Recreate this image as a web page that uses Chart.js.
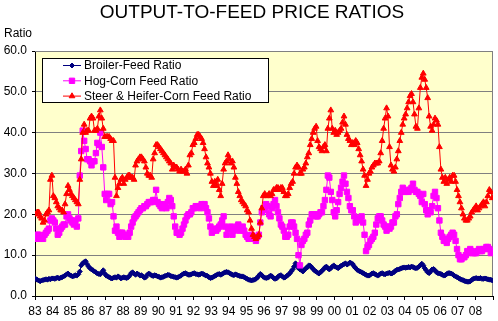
<!DOCTYPE html>
<html>
<head>
<meta charset="utf-8">
<script src="https://cdn.jsdelivr.net/npm/chart.js@4.4.1/dist/chart.umd.min.js"></script>
<style>
  html, body { margin: 0; padding: 0; background: #fff; }
  canvas { display: block; }
</style>
</head>
<body>
<canvas id="chart" width="498" height="321"></canvas>
<script>
// year labels on the x axis, one per 12 monthly points
const yearLabels = ['83','84','85','86','87','88','89','90','91','92','93','94','95',
                    '96','97','98','99','00','01','02','03','04','05','06','07','08'];

// monthly ratios, Jan 1983 .. Dec 2008 (one row per year)
const broiler = [
  4.2,4.0,3.8,3.6,3.8,3.9,4.0,4.1,4.0,4.2,4.1,4.3,
  4.3,4.2,4.4,4.5,4.3,4.5,4.6,4.8,5.0,5.3,5.5,5.2,
  5.0,4.8,4.9,5.1,5.0,5.3,6.0,7.5,8.0,8.3,8.5,7.8,
  7.2,6.8,6.5,6.3,6.0,5.8,5.5,5.4,5.3,5.8,6.3,5.5,
  5.0,4.8,4.6,4.4,4.3,4.5,4.6,4.5,4.8,4.6,4.3,4.5,
  4.6,4.5,4.4,4.6,5.0,5.6,5.8,5.5,5.2,5.5,5.3,5.0,
  5.1,4.8,4.5,4.6,5.2,5.5,5.3,5.0,4.9,5.1,5.0,4.8,
  4.7,4.5,4.6,4.7,4.9,5.0,5.2,5.1,4.9,4.8,4.7,4.6,
  4.5,4.6,4.8,5.0,5.3,5.5,5.6,5.4,5.2,5.2,5.3,5.5,
  5.6,5.4,5.3,5.2,5.3,5.5,5.4,5.2,5.0,4.9,4.6,4.4,
  4.5,4.7,4.9,5.1,5.3,5.4,5.2,5.4,5.6,5.8,5.9,5.8,
  5.6,5.4,5.2,5.1,5.3,5.2,5.0,4.9,4.8,4.8,4.6,4.4,
  4.2,4.0,3.9,3.8,3.9,4.0,4.2,4.5,5.0,5.4,5.1,4.7,
  4.5,4.4,4.5,4.7,5.0,4.8,4.4,4.2,4.3,4.7,5.0,5.1,
  4.8,4.5,4.6,4.9,5.2,5.5,6.0,6.5,7.2,8.0,7.6,6.8,
  6.5,6.3,6.0,6.4,6.8,7.0,7.5,7.4,7.0,6.6,6.2,6.0,
  5.7,5.5,5.8,6.2,6.5,7.0,7.2,6.8,6.5,6.8,7.2,7.5,
  7.2,7.0,6.8,7.1,7.4,7.6,7.8,8.0,7.7,7.9,8.2,8.0,
  7.8,7.2,6.8,6.4,6.2,6.0,5.8,5.6,5.4,5.2,5.0,5.0,
  5.2,5.5,5.6,5.4,5.2,5.0,5.2,5.5,5.6,5.4,5.3,5.5,
  5.6,5.7,5.5,5.6,5.8,6.2,6.4,6.5,6.6,6.8,6.9,7.0,
  6.9,7.0,7.1,7.0,7.2,7.1,6.9,6.8,6.9,7.2,7.5,7.9,
  7.5,6.8,6.3,5.8,5.6,6.0,6.5,6.6,6.3,5.8,5.6,5.5,
  5.4,5.2,5.0,5.1,5.4,5.6,5.6,5.5,5.3,5.0,4.8,4.6,
  4.4,4.2,4.0,3.9,3.7,3.6,3.5,3.5,3.6,3.9,4.2,4.3,
  4.4,4.3,4.3,4.4,4.2,4.2,4.3,4.2,4.1,4.0,4.0,3.8
];

const hogCorn = [
  14,15,15,14,14,14,15,15.5,16,16.5,18.5,19,
  18.5,18,16.5,15,15.5,16.5,17,17.5,17.5,19.5,20,19,
  18.5,18,17.5,18.5,17,19,29.5,35.5,40.5,38,36,33.5,
  33.5,33,32,33,33,35,37.5,37,40,36.5,31.5,25,
  23.5,25,25,22.5,23,19.5,16,17,15.5,14.5,15.5,15.5,
  15,14.5,15,14.5,15.5,17,18,19,19.5,20,20.5,21,
  21.5,21.5,22,22,22.5,23,23,23,23.5,23.5,26,23,
  22.5,22,21.5,22.5,22,21.5,23,24,23.5,22,19.5,17,
  15.5,15.5,15,15.5,16.5,17.5,18.5,19.5,20,20,20.5,21.5,
  21.5,22,22,22,21.5,22.5,22,22.5,21.5,20.5,19,17,
  15.5,16,16.5,16,16.5,17,17.5,18.5,19.5,17,15,16.5,
  16.5,17,15,16,16.5,17,17.5,16,16.5,17,16,15,
  14.5,14,14.5,15,14,14.5,13.5,14.5,15,18,20.5,21.5,
  21,22.5,22,20,19.5,21.5,22.5,23.5,22,20.5,19,17.5,
  17,16,14.5,14.5,15,17,18,18,17,15.5,14,10,
  7.5,12.5,13.5,14,15,15.5,17.5,18.5,20,20,20,19.5,
  19.5,20,20.5,20.5,22,23.5,26,29.5,29,25.5,23.5,20.5,
  19.5,21,23,25,26.5,28,29.5,27.5,25.5,24,22,21,
  21,19.5,18,19,18.5,19,19.5,18,15,11,12,12.5,
  13.5,14,14.5,15.5,17.5,19,19.5,19.5,18.5,17.5,17,16,
  17,16.5,17,18,18,19.5,20,22.5,24,25.5,26.5,25.5,
  25.5,26,25.5,26,26.5,27.5,26,25.5,25.5,25,24.5,23,
  25,22.5,21,20,21,20.5,22,24.5,25.5,24,21.5,18.5,
  15.5,14.5,13.5,14,13,14,14.5,15,15.5,15,13.5,11.5,
  10,9,9,9.5,9.5,10,11,10.5,11.5,11,10.5,10.5,
  10.5,11,11.5,11,11,11.5,11.5,12,12,11.5,10.5,11
];

const steerCorn = [
  20,20.5,20.5,19.5,19,18,18.5,20,20.5,21,28.5,29.5,
  24.5,24,23,22,21.5,21,21,20.5,22.5,25,27,26,
  25,24.5,24,23.5,23,22.5,28.5,33.5,40,42,40,40.5,
  40.5,43.5,44,43.5,40.5,40.5,41,44,45.5,43.5,41,39,
  39,39,39,38.5,38,38,29,24.5,26.5,27.5,28.5,29,
  27.5,28.5,29,29.5,29.5,29,29,28.5,32,33,33.5,34,
  34,33.5,33,31.5,30,29.5,29.5,29,33.5,35,37,37,
  36.5,36,35.5,35,34.5,34,33.5,33,32.5,31,32,31.5,
  31.5,31,30.5,31,30.5,30.5,31,30,32,34.5,35,37,
  37.5,38.5,39.5,39.5,39,38.5,37.5,36,34,32.5,31.5,30,
  28,27,28,27,28.5,26,24.5,27.5,31,32.5,33,34.5,
  33.5,32.5,33,31.5,29,27.5,25.5,24.5,23.5,23,22.5,22,
  21,20.5,18.5,16.5,15,14.5,14,14.5,15,18,21.5,24.5,
  25,24.5,24.5,25,24.5,25,26,26,26.5,26.5,26,26.5,
  26.5,25.5,24.5,24.5,25,26.5,27.5,28,30,31.5,32,31.5,
  30,30,31,31.5,32.5,34,35,37,38.5,40,41,41.5,
  38,36.5,36,35.5,36.5,37,35.5,41,43.5,45.5,41,40,
  40.5,39.5,40,40.5,41,42.5,44,42,39.5,38.5,38,37,
  37.5,37,38,37.5,36,34.5,33,31,29.5,27,28.5,30,
  30.5,31.5,32,32.5,32.5,32.5,33,35,38,41,43.5,46,
  44,36.5,32,31,30.5,31.5,33.5,35.5,38,40,42,43.5,
  44.5,46,47.5,49,49.5,47.5,44.5,41.5,41,46,51,53.5,
  54.5,53,51,48.5,44,41.5,40.5,42,43.5,43,42,36.5,
  31,29,28,29,27.5,28.5,29,28,29.5,29.5,28,26,
  24.5,23,21.5,20,19,18.5,18.5,19,19.5,20.5,21,21.5,
  22,21,21.5,22,22.5,23,22,23,24.5,26,25.5,24
];

const FONT = 'Arial, "Liberation Sans", sans-serif';

function toPoints(values) {
  return values.map((v, i) => ({ x: i + 0.5, y: v }));
}

const plotDecor = {
  id: 'plotDecor',
  beforeDraw(chart) {
    const { ctx, chartArea: a } = chart;
    ctx.save();
    ctx.fillStyle = '#FFFFCC';
    ctx.fillRect(a.left, a.top, a.right - a.left, a.bottom - a.top);
    ctx.restore();
  },
  beforeDatasetsDraw(chart) {
    const { ctx, chartArea: a } = chart;
    ctx.save();
    ctx.strokeStyle = '#808080';
    ctx.lineWidth = 1;
    ctx.beginPath();
    ctx.moveTo(a.left, a.top + 0.5);
    ctx.lineTo(a.right - 0.5, a.top + 0.5);
    ctx.lineTo(a.right - 0.5, a.bottom);
    ctx.stroke();
    ctx.restore();
  },
  afterDraw(chart) {
    const ctx = chart.ctx;
    ctx.save();
    ctx.fillStyle = '#000';
    ctx.textBaseline = 'middle';
    ctx.font = '19px ' + FONT;
    ctx.textAlign = 'center';
    ctx.fillText('OUTPUT-TO-FEED PRICE RATIOS', 252, 13);
    ctx.font = '12px ' + FONT;
    ctx.textAlign = 'left';
    ctx.fillText('Ratio', 4, 34);

    // legend box inside the plot
    ctx.fillStyle = '#fff';
    ctx.fillRect(42.5, 58.5, 226, 44);
    ctx.strokeStyle = '#000';
    ctx.lineWidth = 1;
    ctx.strokeRect(42.5, 58.5, 226, 44);
    chart.data.datasets.forEach((ds, i) => {
      const y = 65.5 + i * 15.3;
      ctx.strokeStyle = ds.borderColor;
      ctx.beginPath();
      ctx.moveTo(63, y);
      ctx.lineTo(81, y);
      ctx.stroke();
      ctx.fillStyle = ds.pointBackgroundColor;
      ctx.strokeStyle = ds.pointBorderColor;
      Chart.helpers.drawPoint(ctx, {
        pointStyle: ds.pointStyle, radius: ds.pointRadius, rotation: 0, borderWidth: 1
      }, 72, y);
      ctx.fillStyle = '#000';
      ctx.fillText(ds.label, 84, y + 0.5);
    });
    ctx.restore();
  }
};

new Chart(document.getElementById('chart'), {
  type: 'line',
  data: {
    datasets: [
      {
        label: 'Broiler-Feed Ratio',
        data: toPoints(broiler),
        borderColor: '#000080',
        backgroundColor: '#000080',
        pointBackgroundColor: '#000080',
        pointBorderColor: '#000080',
        pointStyle: 'rectRot',
        pointRadius: 2.5,
        borderWidth: 1,
        order: 2
      },
      {
        label: 'Hog-Corn Feed Ratio',
        data: toPoints(hogCorn),
        borderColor: '#FF00FF',
        backgroundColor: '#FF00FF',
        pointBackgroundColor: '#FF00FF',
        pointBorderColor: '#FF00FF',
        pointStyle: 'rect',
        pointRadius: 3.8,
        borderWidth: 1,
        order: 1
      },
      {
        label: 'Steer & Heifer-Corn Feed Ratio',
        data: toPoints(steerCorn),
        borderColor: '#FF0000',
        backgroundColor: '#FF0000',
        pointBackgroundColor: '#FF0000',
        pointBorderColor: '#FF0000',
        pointStyle: 'triangle',
        pointRadius: 3.3,
        borderWidth: 1,
        order: 0
      }
    ]
  },
  options: {
    responsive: false,
    animation: false,
    devicePixelRatio: 1,
    layout: { padding: { top: 51, right: 5, left: 0, bottom: 0 } },
    plugins: {
      legend: { display: false },
      title: { display: false },
      tooltip: { enabled: false }
    },
    scales: {
      x: {
        type: 'linear',
        min: 0,
        max: yearLabels.length * 12,
        afterFit(scale) { scale.height = 25; },
        grid: { display: true, drawOnChartArea: false, drawTicks: true, tickLength: 4, color: '#000' },
        border: { display: true, color: '#000', width: 1 },
        ticks: {
          stepSize: 12,
          autoSkip: false,
          maxRotation: 0,
          padding: 4,
          color: '#000',
          font: { family: FONT, size: 12 },
          callback(value) {
            const k = value / 12;
            return Number.isInteger(k) && k < yearLabels.length ? yearLabels[k] : '';
          }
        }
      },
      y: {
        min: 0,
        max: 60,
        afterFit(scale) { scale.width = 35; },
        grid: { color: '#808080', lineWidth: 1, tickLength: 3, tickColor: '#000' },
        border: { display: true, color: '#000', width: 1 },
        ticks: {
          stepSize: 10,
          padding: 5,
          color: '#000',
          font: { family: FONT, size: 12 },
          callback(value) { return value.toFixed(1); }
        }
      }
    }
  },
  plugins: [plotDecor]
});
</script>
</body>
</html>
